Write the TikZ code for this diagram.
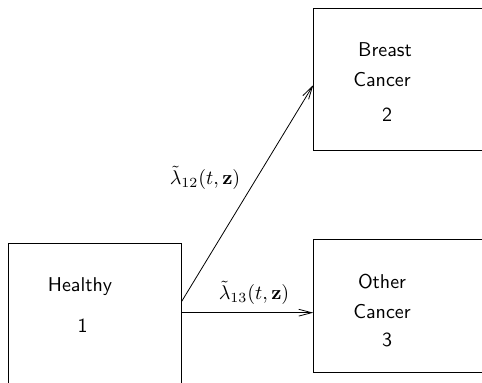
\documentclass[tikz,border=0pt]{standalone}
\usetikzlibrary{arrows.meta}
\tikzset{
    state/.style = {draw, rectangle, anchor = north west, inner sep = 0pt},
    statetext/.style = {font = \sffamily, inner sep = 1pt},
    rate/.style = {inner sep = 0pt},
    trans/.style = {-{Straight Barb[length = 6.5pt, width = 3.4pt]}}
}
\begin{document}
\begin{tikzpicture}[x = 0.5pt, y = -0.5pt]
        \useasboundingbox (0,0) rectangle (482,383);
        \clip (0,0) rectangle (482,383);
        % boxes
        \node[state, minimum width = 86.35pt, minimum height = 88pt] (healthy) at (8,243.5) {};
        \node[state, minimum width = 90pt, minimum height = 70.85pt] (breast) at (313.3,8.3) {};
        \node[state, minimum width = 90pt, minimum height = 66.35pt] (other) at (313.3,239) {};
        % state names
        \node[statetext] (hname) at (80,287) {Healthy};
        \node[statetext] (hnum) at (82.5,326) {1};
        \node[statetext] (bname1) at (385,50) {Breast};
        \node[statetext] (bname2) at (382,80) {Cancer};
        \node[statetext] (bnum) at (387,115) {2};
        \node[statetext] (oname1) at (382,282) {Other};
        \node[statetext] (oname2) at (382,312) {Cancer};
        \node[statetext] (onum) at (387,340) {3};
        % transitions
        \draw[trans] ([yshift = -29.1pt]healthy.north east) -- ([yshift = -38.35pt]breast.north west);
        \draw[trans] ([yshift = -34.6pt]healthy.north east) -- ([yshift = -36.85pt]other.north west);
        \node[rate] (l12) at (205,178) {$\tilde{\lambda}_{12}(t,\mathbf{z})$};
        \node[rate] (l13) at (254,293) {$\tilde{\lambda}_{13}(t,\mathbf{z})$};
    \end{tikzpicture}
\end{document}
